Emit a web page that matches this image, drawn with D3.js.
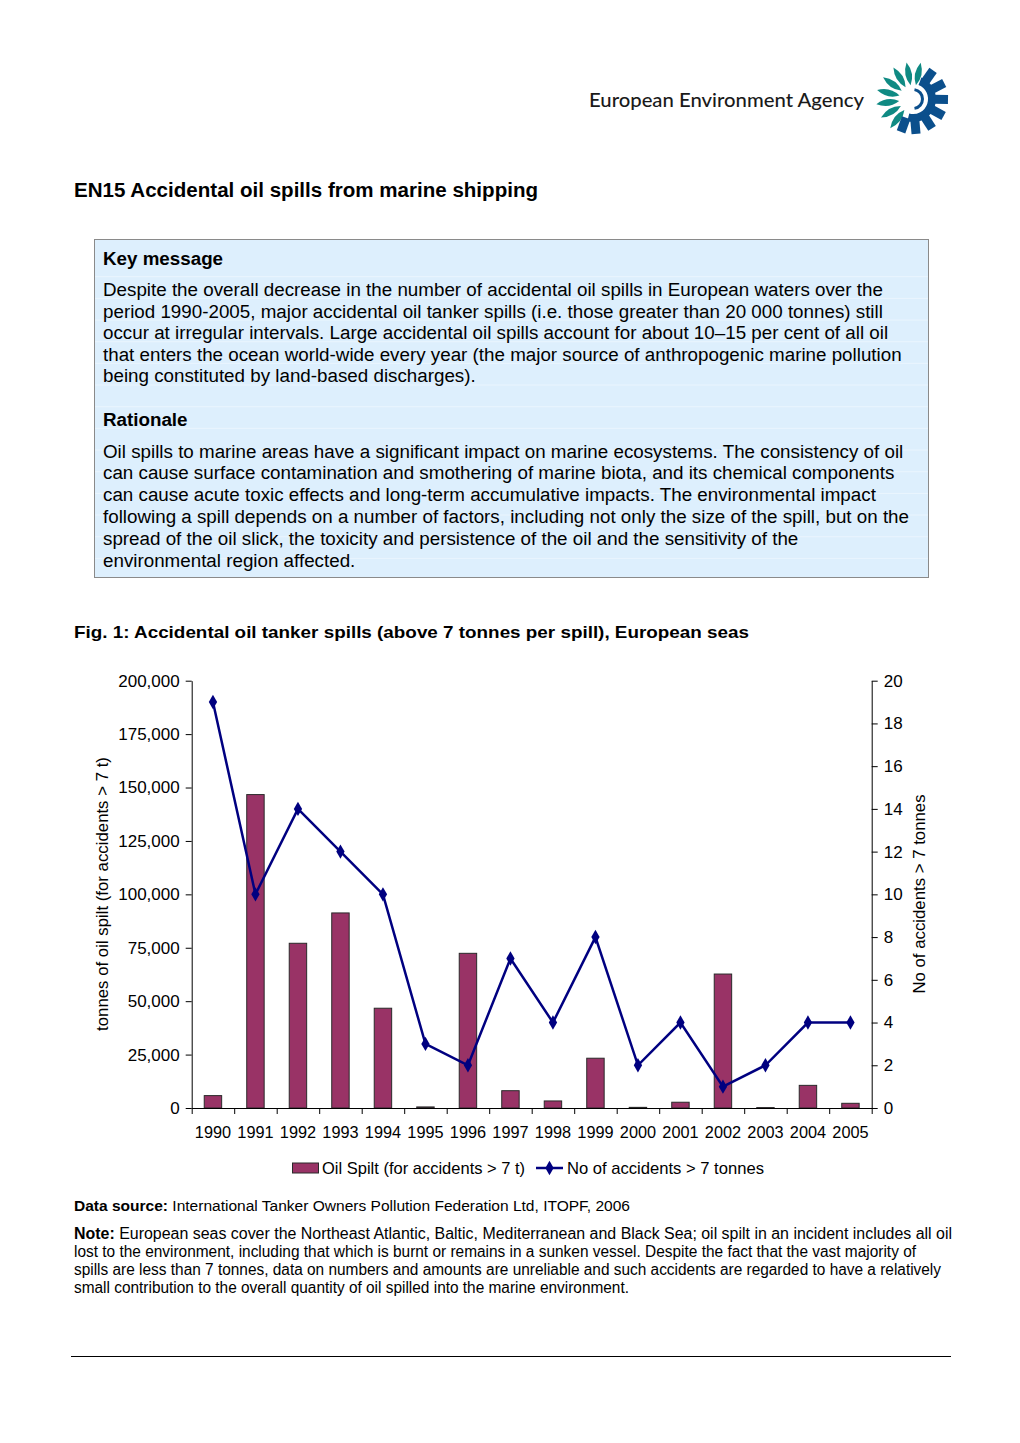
<!DOCTYPE html>
<html>
<head>
<meta charset="utf-8">
<script src="https://cdn.jsdelivr.net/npm/d3@7"></script>
<style>
  html, body { margin: 0; padding: 0; background: #fff; }
  svg { display: block; }
</style>
</head>
<body>
<script>
// ---- data ----
const years = ["1990","1991","1992","1993","1994","1995","1996","1997","1998","1999","2000","2001","2002","2003","2004","2005"];
const oilSpilt = [5800, 146700, 77100, 91300, 46700, 500, 72400, 8100, 3300, 23300, 300, 2700, 62700, 200, 10600, 2200];
const accidents = [19, 10, 14, 12, 10, 3, 2, 7, 4, 8, 2, 4, 1, 2, 4, 4];
const leftTicks = [0, 25000, 50000, 75000, 100000, 125000, 150000, 175000, 200000];
const rightTicks = [0, 2, 4, 6, 8, 10, 12, 14, 16, 18, 20];
const seriesNames = ["Oil Spilt (for accidents > 7 t)", "No of accidents > 7 tonnes"];
const keyMessageLines = [
  "Despite the overall decrease in the number of accidental oil spills in European waters over the",
  "period 1990-2005, major accidental oil tanker spills (i.e. those greater than 20 000 tonnes) still",
  "occur at irregular intervals. Large accidental oil spills account for about 10\u201315 per cent of all oil",
  "that enters the ocean world-wide every year (the major source of anthropogenic marine pollution",
  "being constituted by land-based discharges)."
];
const rationaleLines = [
  "Oil spills to marine areas have a significant impact on marine ecosystems. The consistency of oil",
  "can cause surface contamination and smothering of marine biota, and its chemical components",
  "can cause acute toxic effects and long-term accumulative impacts. The environmental impact",
  "following a spill depends on a number of factors, including not only the size of the spill, but on the",
  "spread of the oil slick, the toxicity and persistence of the oil and the sensitivity of the",
  "environmental region affected."
];
const noteLines = [
  " European seas cover the Northeast Atlantic, Baltic, Mediterranean and Black Sea; oil spilt in an incident includes all oil",
  "lost to the environment, including that which is burnt or remains in a sunken vessel. Despite the fact that the vast majority of",
  "spills are less than 7 tonnes, data on numbers and amounts are unreliable and such accidents are regarded to have a relatively",
  "small contribution to the overall quantity of oil spilled into the marine environment."
];
const noteWidths = [878, 842, 867, 555];

// ---- page ----
const W = 1020, H = 1443;
const FONT = "'Liberation Sans', Arial, sans-serif";
const svg = d3.select("body").append("svg").attr("width", W).attr("height", H)
  .style("font-family", FONT);
svg.append("rect").attr("width", W).attr("height", H).attr("fill", "#fff");

// ---- logo ----
svg.append("text").attr("x", 589).attr("y", 107).attr("font-size", 18.5)
  .attr("font-weight", 500).attr("fill", "#1a1a1a")
  .attr("font-family", "Lato, 'Open Sans', sans-serif")
  .attr("textLength", 275).attr("lengthAdjust", "spacingAndGlyphs")
  .text("European Environment Agency");
const logo = svg.append("g").attr("transform", "translate(913,99)");
const petalAngles = [-78, -100, -122, -144, -166, 172, 150, 128];
petalAngles.forEach(a => {
  logo.append("path")
    .attr("d", "M14,0 Q25,-6.5 37,0 Q25,6.5 14,0 Z")
    .attr("fill", "#0f8a83")
    .attr("transform", `rotate(${a})`);
});
const blueArc = d3.arc().innerRadius(15).outerRadius(23).startAngle(Math.PI * 0.12).endAngle(Math.PI * 1.08);
logo.append("path").attr("d", blueArc()).attr("fill", "#0b4f8c");
[-55, -27, 1, 29, 57, 85, 110].forEach(a => {
  logo.append("rect").attr("x", 20).attr("y", -4.5).attr("width", 15).attr("height", 9)
    .attr("fill", "#0b4f8c").attr("transform", `rotate(${a})`);
});
const innerArc = d3.arc().innerRadius(8).outerRadius(11).startAngle(Math.PI * 0.05).endAngle(Math.PI * 0.95);
logo.append("path").attr("d", innerArc()).attr("fill", "#0b4f8c");

// ---- title ----
svg.append("text").attr("x", 74).attr("y", 197).attr("font-size", 19.5).attr("font-weight", "bold")
  .attr("textLength", 464).attr("lengthAdjust", "spacingAndGlyphs")
  .text("EN15 Accidental oil spills from marine shipping");

// ---- key message box ----
svg.append("rect").attr("x", 94.5).attr("y", 239.5).attr("width", 834).attr("height", 338)
  .attr("fill", "#ddeffd").attr("stroke", "#8a8a8a").attr("stroke-width", 1);
const stripeYs = d3.range(276.7, 575, 21.67);
svg.append("g").selectAll("line").data(stripeYs).join("line")
  .attr("x1", 95).attr("x2", 928).attr("y1", d => d).attr("y2", d => d)
  .attr("stroke", "#eaf5fe").attr("stroke-width", 1);
svg.append("text").attr("x", 103).attr("y", 264.5).attr("font-size", 18.8).attr("font-weight", "bold").text("Key message");
svg.append("g").selectAll("text").data(keyMessageLines).join("text")
  .attr("x", 103).attr("y", (d, i) => 296 + i * 21.6).attr("font-size", 18.8).text(d => d);
svg.append("text").attr("x", 103).attr("y", 425.5).attr("font-size", 18.8).attr("font-weight", "bold").text("Rationale");
svg.append("g").selectAll("text").data(rationaleLines).join("text")
  .attr("x", 103).attr("y", (d, i) => 457.5 + i * 21.8).attr("font-size", 18.8).text(d => d);

// ---- figure caption ----
svg.append("text").attr("x", 74).attr("y", 638).attr("font-size", 17).attr("font-weight", "bold")
  .attr("textLength", 675).attr("lengthAdjust", "spacingAndGlyphs")
  .text("Fig. 1: Accidental oil tanker spills (above 7 tonnes per spill), European seas");

// ---- chart ----
const x0 = 191.7, x1 = 871.7, yTop = 680.7, yBot = 1108;
const x = d3.scaleBand().domain(years).range([x0, x1]);
const xLin = d3.scaleLinear().domain([0, years.length]).range([x0, x1]);
const yL = d3.scaleLinear().domain([0, 200000]).range([yBot, yTop]);
const yR = d3.scaleLinear().domain([0, 20]).range([yBot, yTop]);
const chart = svg.append("g");

// bars
const barW = x.bandwidth() * 0.41;
chart.append("g").selectAll("rect").data(oilSpilt).join("rect")
  .attr("x", (d, i) => x(years[i]) + (x.bandwidth() - barW) / 2)
  .attr("y", d => yL(d))
  .attr("width", barW)
  .attr("height", d => yBot - yL(d))
  .attr("fill", "#993366").attr("stroke", "#2a2a2a").attr("stroke-width", 1);

// axes
function styleAxis(size) {
  return g => {
    g.selectAll("path.domain").attr("stroke", "#000").attr("stroke-width", 1);
    g.selectAll(".tick line").attr("stroke", "#000").attr("stroke-width", 1);
    g.selectAll(".tick text").attr("font-size", size).attr("font-family", FONT).attr("fill", "#000");
  };
}
chart.append("g").attr("transform", `translate(${x0},0)`)
  .call(d3.axisLeft(yL).tickValues(leftTicks).tickFormat(d3.format(",")).tickSize(6).tickSizeOuter(0).tickPadding(6))
  .call(styleAxis(17));
chart.append("g").attr("transform", `translate(${x1},0)`)
  .call(d3.axisRight(yR).tickValues(rightTicks).tickFormat(d3.format("d")).tickSize(6).tickSizeOuter(0).tickPadding(6))
  .call(styleAxis(17));
chart.append("g").attr("transform", `translate(0,${yBot})`)
  .call(d3.axisBottom(xLin).tickValues(d3.range(0, years.length + 1)).tickFormat("").tickSize(6).tickSizeOuter(0))
  .call(styleAxis(16));
chart.append("g").attr("transform", `translate(0,${yBot})`)
  .call(d3.axisBottom(x).tickSize(0).tickPadding(18))
  .call(styleAxis(16.3))
  .call(g => g.select("path.domain").remove());

// line
const lineGen = d3.line().x((d, i) => x(years[i]) + x.bandwidth() / 2).y(d => yR(d));
chart.append("path").datum(accidents).attr("d", lineGen)
  .attr("fill", "none").attr("stroke", "#000080").attr("stroke-width", 2.5).attr("stroke-linejoin", "miter");
const diamond = d3.symbol().type(d3.symbolDiamond).size(60);
chart.append("g").selectAll("path").data(accidents).join("path")
  .attr("d", diamond)
  .attr("transform", (d, i) => `translate(${x(years[i]) + x.bandwidth() / 2},${yR(d)})`)
  .attr("fill", "#000080");

// axis titles
svg.append("text").attr("transform", `translate(108,894) rotate(-90)`).attr("text-anchor", "middle")
  .attr("font-size", 16.8).text("tonnes of oil spilt (for accidents > 7 t)");
svg.append("text").attr("transform", `translate(925,894) rotate(-90)`).attr("text-anchor", "middle")
  .attr("font-size", 16.8).text("No of accidents > 7 tonnes");

// legend
const leg = svg.append("g");
leg.append("rect").attr("x", 292.5).attr("y", 1163).attr("width", 26).attr("height", 10)
  .attr("fill", "#993366").attr("stroke", "#2a2a2a").attr("stroke-width", 1);
leg.append("text").attr("x", 322).attr("y", 1173.5).attr("font-size", 16.5).text(seriesNames[0]);
leg.append("line").attr("x1", 536).attr("x2", 563).attr("y1", 1168).attr("y2", 1168)
  .attr("stroke", "#000080").attr("stroke-width", 2.5);
leg.append("path").attr("d", diamond).attr("transform", "translate(549.5,1168)").attr("fill", "#000080");
leg.append("text").attr("x", 567).attr("y", 1173.5).attr("font-size", 16.6).text(seriesNames[1]);

// ---- data source and note ----
const ds = svg.append("text").attr("x", 74).attr("y", 1211).attr("font-size", 15.5).attr("font-family", FONT)
  .attr("textLength", 556).attr("lengthAdjust", "spacingAndGlyphs");
ds.append("tspan").attr("font-weight", "bold").text("Data source:");
ds.append("tspan").text(" International Tanker Owners Pollution Federation Ltd, ITOPF, 2006");
noteLines.forEach((t, i) => {
  const el = svg.append("text").attr("x", 74).attr("y", 1239 + i * 18).attr("font-size", 15.6).attr("font-family", FONT)
    .attr("textLength", noteWidths[i]).attr("lengthAdjust", "spacingAndGlyphs");
  if (i === 0) el.append("tspan").attr("font-weight", "bold").text("Note:");
  el.append("tspan").text(t);
});

// bottom rule
svg.append("line").attr("x1", 71).attr("x2", 951).attr("y1", 1356.5).attr("y2", 1356.5)
  .attr("stroke", "#000").attr("stroke-width", 1);
</script>
</body>
</html>
